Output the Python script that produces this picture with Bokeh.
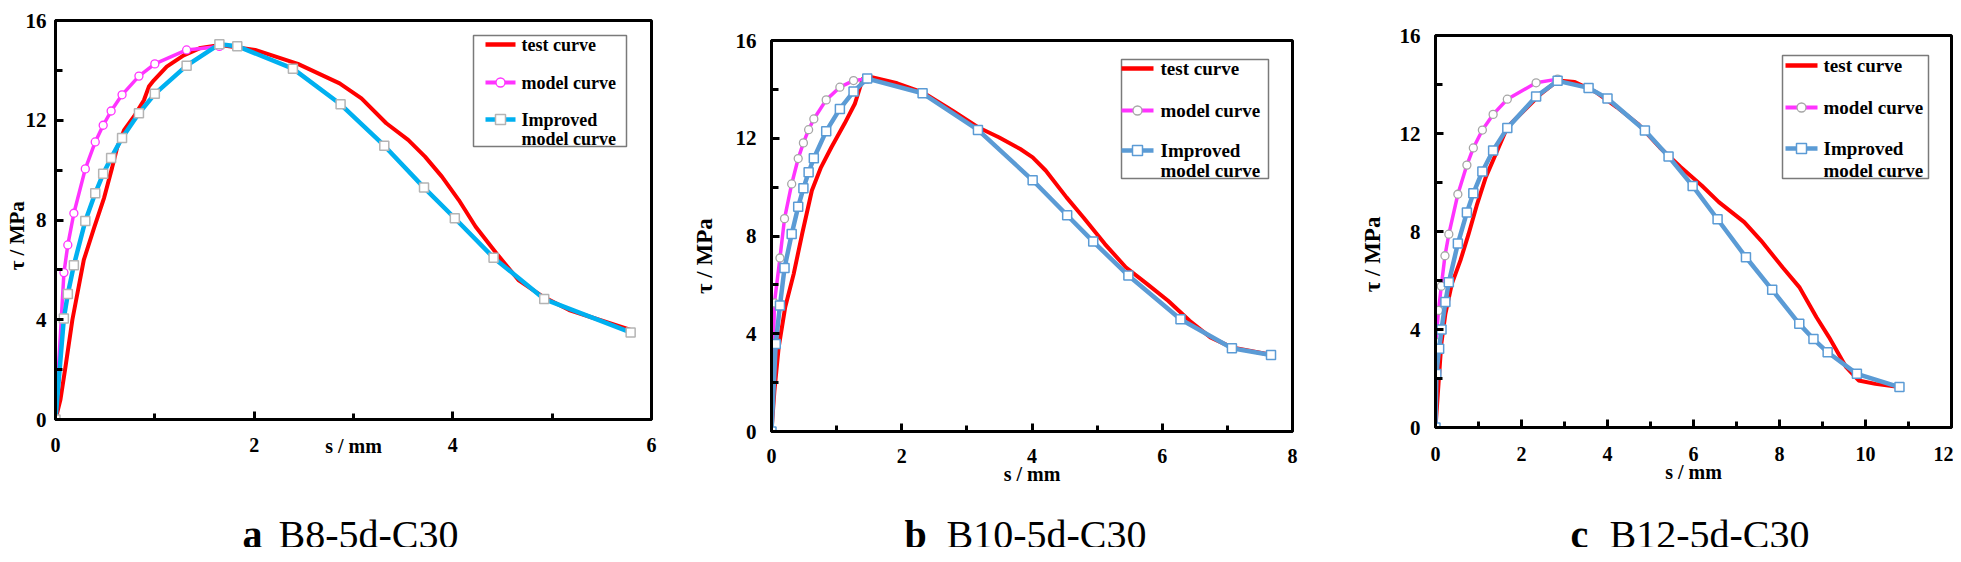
from bokeh.plotting import figure
from bokeh.models import Range1d, FixedTicker
from bokeh.embed import file_html
from bokeh.resources import INLINE
from bokeh.core.properties import value

FONT = "Liberation Serif"

# ---------------- data ----------------
# panel a: B8-5d-C30
a_test_x = [0, 0.05, 0.10, 0.17, 0.285, 0.39, 0.49, 0.57, 0.62, 0.69, 0.79, 0.89, 0.94, 0.99, 1.12, 1.29, 1.46, 1.66,
            2.01, 2.44, 2.86, 3.08, 3.33, 3.55, 3.72, 3.89, 4.06, 4.23, 4.44, 4.66, 4.91, 5.17, 5.79]
a_test_y = [0, 0.8, 2.1, 4.0, 6.4, 7.7, 8.9, 10.1, 10.9, 11.6, 12.15, 12.8, 13.35, 13.6, 14.15, 14.6, 14.9, 15.02,
            14.82, 14.26, 13.48, 12.88, 11.88, 11.21, 10.54, 9.74, 8.80, 7.73, 6.66, 5.59, 4.92, 4.39, 3.59]
a_model_x = [0, 0.085, 0.124, 0.185, 0.30, 0.40, 0.48, 0.56, 0.67, 0.84, 1.0, 1.32, 1.65]
a_model_y = [0, 5.89, 7.0, 8.27, 10.05, 11.13, 11.80, 12.37, 13.02, 13.77, 14.26, 14.82, 14.96]
a_impr_x = [0, 0.084, 0.124, 0.185, 0.30, 0.40, 0.48, 0.56, 0.67, 0.84, 1.0, 1.32, 1.65, 1.83, 2.39, 2.87, 3.31,
            3.71, 4.02, 4.41, 4.92, 5.79]
a_impr_y = [0, 4.05, 5.03, 6.19, 7.96, 9.07, 9.85, 10.49, 11.29, 12.28, 13.06, 14.19, 15.05, 14.97, 14.07, 12.64,
            10.98, 9.30, 8.07, 6.49, 4.83, 3.49]

# panel b: B10-5d-C30
b_test_x = [0, 0.045, 0.11, 0.21, 0.34, 0.47, 0.62, 0.76, 0.92, 1.12, 1.28, 1.36, 1.41, 1.54, 1.93, 2.32, 2.78,
            3.17, 3.49, 3.82, 4.01, 4.21, 4.53, 4.79, 5.12, 5.44, 5.77, 6.09, 6.42, 6.74, 7.07, 7.67]
b_test_y = [0, 1.67, 3.44, 5.08, 6.44, 8.08, 9.86, 10.81, 11.63, 12.59, 13.41, 14.09, 14.47, 14.50, 14.25, 13.88,
            13.13, 12.45, 12.04, 11.56, 11.22, 10.68, 9.58, 8.76, 7.67, 6.72, 6.03, 5.35, 4.53, 3.85, 3.44, 3.14]
b_model_x = [0, 0.045, 0.13, 0.20, 0.31, 0.41, 0.49, 0.57, 0.65, 0.84, 1.05, 1.26, 1.47]
b_model_y = [0, 5.26, 7.10, 8.71, 10.13, 11.17, 11.81, 12.35, 12.79, 13.57, 14.09, 14.36, 14.42]
b_impr_x = [0, 0.065, 0.13, 0.20, 0.31, 0.41, 0.49, 0.57, 0.65, 0.84, 1.05, 1.26, 1.47, 2.32, 3.17, 4.01, 4.54,
            4.94, 5.48, 6.28, 7.07, 7.67]
b_impr_y = [0, 3.58, 5.16, 6.69, 8.08, 9.20, 9.95, 10.61, 11.18, 12.29, 13.20, 13.91, 14.44, 13.84, 12.34, 10.28,
            8.85, 7.77, 6.38, 4.59, 3.41, 3.13]

# panel c: B12-5d-C30
c_test_x = [0, 0.07, 0.135, 0.23, 0.38, 0.58, 0.77, 0.97, 1.17, 1.37, 1.67, 2.06, 2.45, 2.84, 3.24, 3.73, 4.22,
            4.71, 5.21, 5.70, 6.19, 6.59, 7.18, 7.57, 8.07, 8.46, 8.86, 9.15, 9.55, 9.84, 10.23, 10.79]
c_test_y = [0, 1.78, 3.41, 4.64, 5.86, 6.82, 7.90, 9.13, 10.22, 11.03, 12.26, 12.94, 13.62, 14.16, 14.10, 13.69,
            13.07, 12.39, 11.44, 10.63, 9.88, 9.20, 8.38, 7.63, 6.54, 5.73, 4.50, 3.69, 2.46, 1.92, 1.78, 1.65]
c_model_x = [0, 0.01, 0.07, 0.135, 0.22, 0.31, 0.52, 0.73, 0.88, 1.09, 1.34, 1.67, 2.34, 2.84]
c_model_y = [0, 3.48, 4.78, 5.77, 7.01, 7.89, 9.52, 10.71, 11.41, 12.14, 12.78, 13.40, 14.07, 14.22]
c_impr_x = [0, 0.02, 0.085, 0.14, 0.23, 0.31, 0.52, 0.73, 0.88, 1.09, 1.34, 1.67, 2.34, 2.84, 3.56, 4.0, 4.87,
            5.42, 5.98, 6.56, 7.22, 7.83, 8.46, 8.79, 9.12, 9.80, 10.79]
c_impr_y = [0, 2.18, 3.21, 4.0, 5.12, 5.93, 7.51, 8.78, 9.56, 10.45, 11.31, 12.22, 13.51, 14.15, 13.86, 13.43,
            12.12, 11.06, 9.86, 8.50, 6.95, 5.62, 4.23, 3.61, 3.07, 2.19, 1.65]

y_ticks = [0, 4, 8, 12, 16]
y_minor = [2, 6, 10, 14]
a_xticks, a_xminor = [0, 2, 4, 6], [1, 3, 5]
b_xticks, b_xminor = [0, 2, 4, 6, 8], [1, 3, 5, 7]
c_xticks, c_xminor = [0, 2, 4, 6, 8, 10, 12], [1, 3, 5, 7, 9, 11]

legend_labels = ["test curve", "model curve", "Improved", "model curve"]
caption_letters = ["a", "b", "c"]
caption_names = ["B8-5d-C30", "B10-5d-C30", "B12-5d-C30"]
x_title = "s / mm"
y_title = "τ / MPa"

RED = "#ff0000"
MAG = "#ff33ff"

PANEL_H = 492
STRIP_TOP = 505      # observed top of the caption strip (panel row is 13px taller than PANEL_H)
CAP_H = 55
TOTAL_W = 1953
NBSP = "\u00a0"


def panel(geo, xmax, xticks, xminor, data, style, cfg):
    fig_left, fig_w, fl, fr, ft, fb = geo
    p = figure(frame_width=fr - fl, frame_height=fb - ft,
               min_border_left=fl - fig_left, min_border_right=fig_left + fig_w - fr,
               min_border_top=ft, min_border_bottom=PANEL_H - fb,
               x_range=Range1d(0, xmax), y_range=Range1d(0, 16),
               output_backend="svg", toolbar_location=None, title=None)
    X = lambda px: (px - fl) / (fr - fl) * xmax
    Y = lambda py: (fb - py) / (fb - ft) * 16.0

    p.grid.visible = False
    p.outline_line_color = "black"
    p.outline_line_width = 3
    p.outline_line_alpha = 1
    p.background_fill_color = "white"
    p.border_fill_color = "white"

    p.xaxis.ticker = FixedTicker(ticks=xticks, minor_ticks=xminor)
    p.yaxis.ticker = FixedTicker(ticks=y_ticks, minor_ticks=y_minor)
    for ax in (p.xaxis, p.yaxis):
        ax.axis_line_width = 3
        ax.axis_line_color = "black"
        ax.major_tick_line_width = 3
        ax.minor_tick_line_width = 3
        ax.major_tick_out = 0
        ax.minor_tick_out = 0
        ax.major_label_text_font = FONT
        ax.major_label_text_font_style = "bold"
        ax.major_label_text_color = "black"
        ax.axis_label_text_font = FONT
        ax.axis_label_text_font_style = "bold"
        ax.axis_label_text_color = "black"
    p.xaxis.major_tick_in = 8
    p.xaxis.minor_tick_in = 6
    p.yaxis.major_tick_in = 8
    p.yaxis.minor_tick_in = 7
    p.xaxis.major_label_text_font_size = "20px"
    p.yaxis.major_label_text_font_size = "21px"
    p.xaxis.major_label_standoff = cfg["x_standoff"]
    p.yaxis.major_label_standoff = cfg["y_standoff"]
    p.xaxis.axis_label = x_title
    p.xaxis.axis_label_text_font_size = "20px"
    p.xaxis.axis_label_standoff = cfg["xl_standoff"]
    # trailing no-break spaces move the rotated title slightly downward, as in the reference
    p.yaxis.axis_label = y_title + NBSP * cfg["yl_pad"]
    p.yaxis.axis_label_text_font_size = cfg["yl_fs"]
    p.yaxis.axis_label_standoff = cfg["yl_standoff"]

    (tx, ty), (mx, my), (ix, iy) = data
    p.line(tx, ty, line_color=RED, line_width=4)
    p.line(mx, my, line_color=MAG, line_width=3.5)
    p.scatter(mx, my, marker="circle", size=8, fill_color="white",
              line_color=style["circ_line"], line_width=1.3)
    p.line(ix, iy, line_color=style["impr"], line_width=4.5)
    p.scatter(ix, iy, marker="square", size=9, fill_color="white",
              line_color=style["sq_line"], line_width=1.5)

    # legend (drawn inside the frame)
    lg = cfg["legend"]
    bl, br, bt, bb = lg["box"]
    p.quad(left=[X(bl)], right=[X(br)], top=[Y(bt)], bottom=[Y(bb)], fill_color="white",
           line_color="#7a7a7a", line_width=1.5)
    l0, l1 = lg["line"]
    lm = (l0 + l1) / 2
    ys = lg["rows"]
    p.line([X(l0), X(l1)], [Y(ys[0])] * 2, line_color=RED, line_width=4.5)
    p.line([X(l0), X(l1)], [Y(ys[1])] * 2, line_color=MAG, line_width=4)
    p.scatter([X(lm)], [Y(ys[1])], marker="circle", size=9, fill_color="white",
              line_color=style["circ_line"], line_width=1.3)
    p.line([X(l0), X(l1)], [Y(ys[2])] * 2, line_color=style["impr"], line_width=4.5)
    p.scatter([X(lm)], [Y(ys[2])], marker="square", size=10, fill_color="white",
              line_color=style["sq_line"], line_width=1.5)
    p.text(x=[X(lg["tx"])] * 4, y=[Y(v) for v in ys], text=legend_labels,
           text_font=value(FONT), text_font_style="bold", text_font_size=lg["fs"],
           text_baseline="middle", text_align="left", text_color="black")
    return p


style_a = dict(impr="#00b0f0", circ_line=MAG, sq_line="#b4b4b4")
style_bc = dict(impr="#5b9bd5", circ_line="#a6a6a6", sq_line="#5b9bd5")

pa = panel((0, 685, 55, 651, 20, 419), 6, a_xticks, a_xminor,
           ((a_test_x, a_test_y), (a_model_x, a_model_y), (a_impr_x, a_impr_y)), style_a,
           dict(x_standoff=18, y_standoff=9, xl_standoff=-20, yl_fs="21px", yl_standoff=-6, yl_pad=6,
                legend=dict(box=(473, 626, 35, 146), line=(485, 515), rows=[44, 82, 119, 138], tx=521, fs="18px")))

pb = panel((685, 660, 771, 1292, 40, 431), 8, b_xticks, b_xminor,
           ((b_test_x, b_test_y), (b_model_x, b_model_y), (b_impr_x, b_impr_y)), style_bc,
           dict(x_standoff=17, y_standoff=15, xl_standoff=-3, yl_fs="23px", yl_standoff=16, yl_pad=7,
                legend=dict(box=(1121, 1268, 59, 178), line=(1121, 1153), rows=[68, 110, 150, 170], tx=1160, fs="19px")))

pc = panel((1345, 608, 1435, 1951, 35, 427), 12, c_xticks, c_xminor,
           ((c_test_x, c_test_y), (c_model_x, c_model_y), (c_impr_x, c_impr_y)), style_bc,
           dict(x_standoff=19, y_standoff=15, xl_standoff=-3, yl_fs="23px", yl_standoff=12, yl_pad=8,
                legend=dict(box=(1782, 1928, 55, 178), line=(1785, 1817), rows=[65, 107, 148, 170], tx=1823, fs="19px")))

# caption strip below the three panels (y measured downward, in page pixels)
cap = figure(width=TOTAL_W, height=CAP_H, min_border=0, min_border_left=0, min_border_right=0,
             min_border_top=0, min_border_bottom=0,
             x_range=Range1d(0, TOTAL_W), y_range=Range1d(STRIP_TOP + CAP_H, STRIP_TOP),
             x_axis_location=None, y_axis_location=None,
             output_backend="svg", toolbar_location=None, title=None)
cap.grid.visible = False
cap.outline_line_color = None
cap.background_fill_color = "white"
cap.border_fill_color = "white"
cap_letter_x = [242, 904, 1570]
cap_name_x = [278, 946, 1609]
cap.text(x=cap_letter_x, y=[547] * 3, text=caption_letters, text_font=value(FONT), text_font_style="bold",
         text_font_size="40px", text_baseline="alphabetic", text_align="left", text_color="black")
cap.text(x=cap_name_x, y=[547] * 3, text=caption_names, text_font=value(FONT), text_font_style="normal",
         text_font_size="40px", text_baseline="alphabetic", text_align="left", text_color="black")

TEMPLATE = """
{% block postamble %}
<style>
  body { display: flex; flex-direction: row; flex-wrap: wrap; align-items: flex-start; align-content: flex-start; }
</style>
{% endblock %}
"""

open("out.html", "w").write(file_html([pa, pb, pc, cap], INLINE, template=TEMPLATE))
